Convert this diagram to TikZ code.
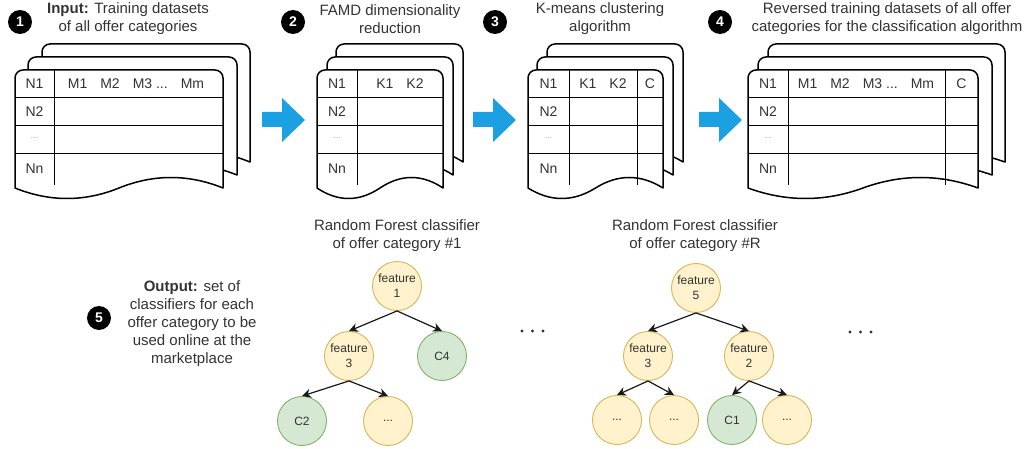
\documentclass[tikz,border=0pt]{standalone}
\usepackage{fontspec}
\setmainfont{Liberation Sans}
\usetikzlibrary{arrows.meta}
\definecolor{txt}{HTML}{333333}
\definecolor{yfill}{HTML}{FFF2CC}
\definecolor{ydraw}{HTML}{D6B656}
\definecolor{gfill}{HTML}{D5E8D4}
\definecolor{gdraw}{HTML}{82B366}
\definecolor{blue}{HTML}{1BA1E2}
\newcommand{\docsheet}[3]{%
  \draw[sheet] (#1,{#2+118}) -- (#1,{#2+8})
    .. controls (#1,{#2+3.6}) and ({#1+3.6},#2) .. ({#1+8},#2)
    -- ({#1+#3-8},#2)
    .. controls ({#1+#3-3.6},#2) and ({#1+#3},{#2+3.6}) .. ({#1+#3},{#2+8})
    -- ({#1+#3},{#2+118})
    .. controls ({#1+#3*5/6},{#2+104}) and ({#1+#3*2/3},{#2+104}) .. ({#1+#3/2},{#2+118})
    .. controls ({#1+#3/3},{#2+132}) and ({#1+#3/6},{#2+132}) .. (#1,{#2+118}) -- cycle;}
\newcommand{\tablerows}[2]{%
  \draw[grid] (#1,98) -- ({#1+#2},98) (#1,126) -- ({#1+#2},126) (#1,154) -- ({#1+#2},154);}
\newcommand{\bluearrow}[1]{%
  \fill[blue] (#1,112) -- ({#1+20},112) -- ({#1+20},98) -- ({#1+43},120) -- ({#1+20},142) -- ({#1+20},127) -- (#1,127) -- cycle;}
\begin{document}
\begin{tikzpicture}[x=1pt,y=-1pt,
  sheet/.style={draw=black,fill=white,line width=1.5pt,line join=round},
  grid/.style={draw=black,line width=1pt},
  title/.style={align=center,text=txt,inner sep=0pt,font=\fontsize{15}{18}\selectfont},
  cell/.style={text=txt,inner sep=0pt,font=\fontsize{14}{16}\selectfont},
  dotcell/.style={text=gray!70,inner sep=0pt,font=\fontsize{9}{10}\selectfont},
  badge/.style={circle,fill=black,text=white,minimum size=24pt,inner sep=0pt,font=\fontsize{14}{14}\selectfont\bfseries},
  tnode/.style={circle,minimum size=49pt,inner sep=0pt,line width=0.9pt,align=center,text=txt,font=\fontsize{12}{15}\selectfont},
  feat/.style={tnode,fill=yfill,draw=ydraw},
  leaf/.style={tnode,fill=gfill,draw=gdraw},
  edge/.style={draw=black!90,line width=1.2pt,-{Stealth[length=9pt,width=9pt]}},
  bigdot/.style={fill=txt}]
\useasboundingbox (0,0) rectangle (1031,449);

% ---------- stack 1 ----------
\docsheet{42}{44}{208}
\docsheet{28}{57}{209}
\docsheet{15}{70}{208}
\tablerows{15}{208}
\draw[grid] (54,70) -- (54,185);
\node[cell] (s1n1) at (34.5,84) {N1};
\node[cell] (s1h) at (136,84) {M1\hspace{13pt}M2\hspace{13pt}M3 ...\hspace{13pt}Mm};
\node[cell] (s1n2) at (34.5,112) {N2};
\node[dotcell] (s1nd) at (34.5,138) {...};
\node[cell] (s1nn) at (34.5,169) {Nn};

% ---------- stack 2 ----------
\docsheet{336}{44}{127}
\docsheet{327}{57}{126}
\docsheet{317}{70}{126}
\tablerows{317}{126}
\draw[grid] (357,70) -- (357,185);
\node[cell] (s2n1) at (337,84) {N1};
\node[cell] (s2h) at (400,84) {K1\hspace{13pt}K2};
\node[cell] (s2n2) at (337,112) {N2};
\node[dotcell] (s2nd) at (337,138) {...};
\node[cell] (s2nn) at (337,169) {Nn};

% ---------- stack 3 ----------
\docsheet{547}{44}{136}
\docsheet{537}{57}{136}
\docsheet{528}{70}{135}
\tablerows{528}{135}
\draw[grid] (569,70) -- (569,185) (637,70) -- (637,185);
\node[cell] (s3n1) at (548.5,84) {N1};
\node[cell] (s3h) at (603,84) {K1\hspace{13pt}K2};
\node[cell] (s3c) at (650,84) {C};
\node[cell] (s3n2) at (548.5,112) {N2};
\node[dotcell] (s3nd) at (548.5,138) {...};
\node[cell] (s3nn) at (548.5,169) {Nn};

% ---------- stack 4 ----------
\docsheet{768}{44}{237}
\docsheet{758}{57}{234}
\docsheet{748}{70}{230}
\tablerows{748}{230}
\draw[grid] (788,70) -- (788,185) (945,70) -- (945,185);
\node[cell] (s4n1) at (768,84) {N1};
\node[cell] (s4h) at (866,84) {M1\hspace{13pt}M2\hspace{13pt}M3 ...\hspace{13pt}Mm};
\node[cell] (s4c) at (961.5,84) {C};
\node[cell] (s4n2) at (768,112) {N2};
\node[dotcell] (s4nd) at (768,138) {...};
\node[cell] (s4nn) at (768,169) {Nn};

% ---------- block arrows ----------
\bluearrow{262}
\bluearrow{473}
\bluearrow{699}

% ---------- titles and badges ----------
\node[badge] (b1) at (20,22) {1};
\node[title] (t1) at (128,19) {\textbf{Input:} Training datasets\\of all offer categories};
\node[badge] (b2) at (293,22) {2};
\node[title] (t2) at (390,19) {FAMD dimensionality\\reduction};
\node[badge] (b3) at (495,22) {3};
\node[title] (t3) at (600,19) {K-means clustering\\algorithm};
\node[badge] (b4) at (720,22) {4};
\node[title] (t4) at (887,19) {Reversed training datasets of all offer\\categories for the classification algorithm};

\node[badge] (b5) at (99,318) {5};
\node[title] (t5) at (192,324) {\textbf{Output:} set of\\classifiers for each\\offer category to be\\used online at the\\marketplace};

% ---------- tree 1 ----------
\node[title] (rf1) at (397,236) {Random Forest classifier\\of offer category \#1};
\node[feat] (a1) at (397,286) {feature\\1};
\node[feat] (a3) at (349,356) {feature\\3};
\node[leaf] (ac4) at (442,356) {C4};
\node[leaf] (ac2) at (302,421) {C2};
\node[feat] (ad) at (388,421) {...};
\draw[edge] (a1.south) -- (a3.north);
\draw[edge] (a1.south) -- (ac4.north);
\draw[edge] (a3.south) -- (ac2.north);
\draw[edge] (a3.south) -- (ad.north);

% ---------- tree 2 ----------
\node[title] (rf2) at (695,236) {Random Forest classifier\\of offer category \#R};
\node[feat] (r5) at (696,288) {feature\\5};
\node[feat] (r3) at (648,356) {feature\\3};
\node[feat] (r2) at (749,356) {feature\\2};
\node[feat] (rd1) at (617,420) {...};
\node[feat] (rd2) at (674,420) {...};
\node[leaf] (rc1) at (732,420) {C1};
\node[feat] (rd3) at (787,420) {...};
\draw[edge] (r5.south) -- (r3.north);
\draw[edge] (r5.south) -- (r2.north);
\draw[edge] (r3.south) -- (rd1.north);
\draw[edge] (r3.south) -- (rd2.north);
\draw[edge] (r2.south) -- (rc1.north);
\draw[edge] (r2.south) -- (rd3.north);

% ---------- ellipses ----------
\fill[bigdot] (522,331) circle[radius=1.7] (532.5,331) circle[radius=1.7] (543,331) circle[radius=1.7];
\fill[bigdot] (850,332) circle[radius=1.7] (860.5,332) circle[radius=1.7] (871,332) circle[radius=1.7];
\end{tikzpicture}
\end{document}
